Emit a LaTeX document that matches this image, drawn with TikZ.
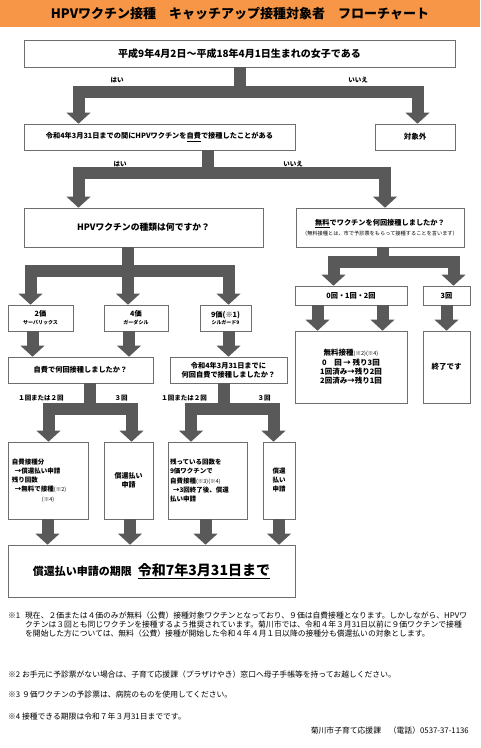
\documentclass[tikz,border=0pt]{standalone}
\usepackage{fontspec}
\setmainfont{Noto Sans CJK JP}
\usepackage{tikz}
\usetikzlibrary{arrows.meta, positioning}
\definecolor{myorange}{RGB}{247,150,70}
\definecolor{mygray}{RGB}{89,89,89}
\definecolor{myframe}{RGB}{110,110,110}
\tikzset{
  titlebar/.style={rectangle, fill=myorange, inner sep=0pt,
    font=\bfseries\fontsize{13}{15}\selectfont},
  block/.style={rectangle, draw=myframe, fill=white, line width=0.6pt,
    align=center, inner sep=1pt, font=\bfseries\fontsize{7.2}{9.3}\selectfont},
  leftblock/.style={block, align=left, font=\bfseries\fontsize{6.5}{9.2}\selectfont},
  fatarrow/.style={draw=mygray, line width=12pt, line join=miter,
    -{Triangle[width=24pt,length=11pt,line width=0pt]}},
  yesno/.style={inner sep=0pt, font=\bfseries\fontsize{6.5}{7}\selectfont},
  note/.style={inner sep=0pt, align=left, anchor=west,
    font=\fontsize{7.8}{8.7}\selectfont}
}
\newcommand{\smallref}[1]{{\mdseries\fontsize{5.5}{6}\selectfont #1}}

\begin{document}
\begin{tikzpicture}[x=1pt, y=-1pt]
  \useasboundingbox (0,0) rectangle (480,748);

  % Title
  \node[titlebar, minimum width=480, minimum height=27] (title) at (240,13.5)
    {HPVワクチン接種　キャッチアップ接種対象者　フローチャート};

  % Birth date check
  \node[block, minimum width=431, minimum height=27, font=\bfseries\fontsize{10}{12}\selectfont]
    (born) at (239.5,53.5) {平成9年4月2日～平成18年4月1日生まれの女子である};
  \node[block, minimum width=271, minimum height=26] (selfpaid) at (159.5,137)
    {令和4年3月31日までの間にHPVワクチンを\underline{自費}で接種したことがある};
  \node[block, minimum width=80, minimum height=26, font=\bfseries\fontsize{7.5}{9}\selectfont]
    (out) at (415,137) {対象外};
  \draw[fatarrow] (born.south) -- ++(0,24.5) -| ([xshift=-81pt]selfpaid.north);
  \draw[fatarrow] (born.south) -- ++(0,24.5) -| ([xshift=2.5pt]out.north);
  \node[yesno] (yes1) at (117,80) {はい};
  \node[yesno] (no1) at (358,80) {いいえ};

  % Self-paid before R4.3.31
  \node[block, minimum width=239, minimum height=39, font=\bfseries\fontsize{8.8}{10}\selectfont]
    (kind) at (143.5,227.5) {HPVワクチンの種類は何ですか？};
  \node[block, minimum width=168, minimum height=39] (freeq) at (380,227.5)
    {\underline{無料}でワクチンを何回接種しましたか？\\[1pt]
     {\mdseries\fontsize{5.2}{6}\selectfont （無料接種とは、市で予診票をもらって接種することを言います）}};
  \draw[fatarrow] ([xshift=48.5pt]selfpaid.south) -- ++(0,23) -| ([xshift=-65pt]kind.north);
  \draw[fatarrow] ([xshift=48.5pt]selfpaid.south) -- ++(0,23) -| ([xshift=5pt]freeq.north);
  \node[yesno] (yes2) at (120,164) {はい};
  \node[yesno] (no2) at (293,164) {いいえ};

  % Vaccine type (Left)
  \node[block, minimum width=65, minimum height=26] (bival) at (40.5,318)
    {2価\\[-1.5pt]{\fontsize{5}{6}\selectfont サーバリックス}};
  \node[block, minimum width=64, minimum height=26] (quadval) at (136,318)
    {4価\\[-1.5pt]{\fontsize{5}{6}\selectfont ガーダシル}};
  \node[block, minimum width=51, minimum height=26] (nonaval) at (225.5,318)
    {9価(※1)\\[-1.5pt]{\fontsize{5}{6}\selectfont シルガード9}};
  \draw[fatarrow] ([xshift=-15.5pt]kind.south) -- ++(0,24) -| ([xshift=-10pt]bival.north);
  \draw[fatarrow] ([xshift=-15.5pt]kind.south) -- ([xshift=-8pt]quadval.north);
  \draw[fatarrow] ([xshift=-15.5pt]kind.south) -- ++(0,24) -| ([xshift=3pt]nonaval.north);

  \node[block, minimum width=145, minimum height=26] (selfq) at (80.5,370)
    {自費で何回接種しましたか？};
  \node[block, minimum width=117, minimum height=26] (priorq) at (228.5,370)
    {令和4年3月31日までに\\何回自費で接種しましたか？};
  \draw[fatarrow] ([xshift=-8pt]bival.south) -- ([xshift=-48pt]selfq.north);
  \draw[fatarrow] ([xshift=-7pt]quadval.south) -- ([xshift=48.5pt]selfq.north);
  \draw[fatarrow] ([xshift=3pt]nonaval.south) -- (priorq.north);

  % Number of self-paid doses
  \node[leftblock, minimum width=80, minimum height=77, text width=72] (boxA) at (48,480.5)
    {自費接種分\\
     \hspace*{3pt}→償還払い申請\\
     残り回数\\
     \hspace*{3pt}→無料で接種\smallref{(※2)}\\
     \hspace*{30pt}\smallref{(※4)}};
  \node[block, minimum width=49, minimum height=77, font=\bfseries\fontsize{7}{9.5}\selectfont]
    (boxB) at (128.5,480.5) {償還払い\\申請};
  \node[leftblock, minimum width=79, minimum height=77, text width=75] (boxC) at (207.5,480.5)
    {残っている回数を\\
     9価ワクチンで\\
     自費接種\smallref{(※3)(※4)}\\
     \hspace*{3pt}→3回終了後、償還\\
     払い申請};
  \node[block, minimum width=32, minimum height=77, font=\bfseries\fontsize{6.5}{9}\selectfont]
    (boxD) at (279,480.5) {償還\\払い\\申請};
  \draw[fatarrow] ([xshift=9.5pt]selfq.south) -- ++(0,26) -| ([xshift=0.5pt]boxA.north);
  \draw[fatarrow] ([xshift=9.5pt]selfq.south) -- ++(0,26) -| ([xshift=3pt]boxB.north);
  \draw[fatarrow] ([xshift=-4.5pt]priorq.south) -- ++(0,26) -| ([xshift=-16.5pt]boxC.north);
  \draw[fatarrow] ([xshift=-4.5pt]priorq.south) -- ++(0,26) -| ([xshift=-5.5pt]boxD.north);
  \node[yesno] (once1) at (41,398) {１回または２回};
  \node[yesno] (three1) at (121,398) {３回};
  \node[yesno] (once2) at (184,398) {１回または２回};
  \node[yesno] (three2) at (264,398) {３回};

  % Deadline
  \node[block, minimum width=287, minimum height=52] (final) at (151.5,571)
    {{\fontsize{11}{13}\selectfont 償還払い申請の期限}\hspace{6pt}%
     {\fontsize{14}{16}\selectfont\underline{令和7年3月31日まで}}};
  \draw[fatarrow] ([xshift=-0.5pt]boxA.south) -- ([xshift=-104pt]final.north);
  \draw[fatarrow] ([xshift=1.5pt]boxB.south) -- ([xshift=-21.5pt]final.north);
  \draw[fatarrow] ([xshift=-2pt]boxC.south) -- ([xshift=54pt]final.north);
  \draw[fatarrow] (boxD.south) -- ([xshift=127.5pt]final.north);

  % Free doses (Right)
  \node[block, minimum width=112, minimum height=19] (zero12) at (351,295.5) {0回・1回・2回};
  \node[block, minimum width=47, minimum height=19] (three) at (446.5,295.5) {3回};
  \draw[fatarrow] ([xshift=3pt]freeq.south) -- ++(0,14.5) -| ([xshift=-17.5pt]zero12.north);
  \draw[fatarrow] ([xshift=3pt]freeq.south) -- ++(0,14.5) -| ([xshift=7pt]three.north);
  \node[block, minimum width=112, minimum height=72, font=\bfseries\fontsize{7.5}{9.3}\selectfont]
    (freebox) at (351,367)
    {無料接種\smallref{(※2)(※4)}\\
     0　回 → 残り3回\\
     1回済み→残り2回\\
     2回済み→残り1回};
  \node[block, minimum width=47, minimum height=72, font=\bfseries\fontsize{7.5}{9}\selectfont]
    (done) at (446.5,367) {終了です};
  \draw[fatarrow] ([xshift=-33.5pt]zero12.south) -- ([xshift=-33.5pt]freebox.north);
  \draw[fatarrow] ([xshift=31.5pt]zero12.south) -- ([xshift=31.5pt]freebox.north);
  \draw[fatarrow] (three.south) -- (done.north);

  % Notes
  \node[note] (mark1) at (8,616) {※1};
  \node[note] (note1) at (25,624.5)
    {現在、２価または４価のみが無料（公費）接種対象ワクチンとなっており、９価は自費接種となります。しかしながら、HPVワ\\
     クチンは３回とも同じワクチンを接種するよう推奨されています。菊川市では、令和４年３月31日以前に９価ワクチンで接種\\
     を開始した方については、無料（公費）接種が開始した令和４年４月１日以降の接種分も償還払いの対象とします。};
  \node[note] (note2) at (8,675)
    {※2 お手元に予診票がない場合は、子育て応援課（プラザけやき）窓口へ母子手帳等を持ってお越しください。};
  \node[note] (note3) at (8,695) {※3 ９価ワクチンの予診票は、病院のものを使用してください。};
  \node[note] (note4) at (8,717) {※4 接種できる期限は令和７年３月31日までです。};
  \node[note, anchor=east] (contact) at (469,731) {菊川市子育て応援課　（電話）0537-37-1136};
\end{tikzpicture}
\end{document}
